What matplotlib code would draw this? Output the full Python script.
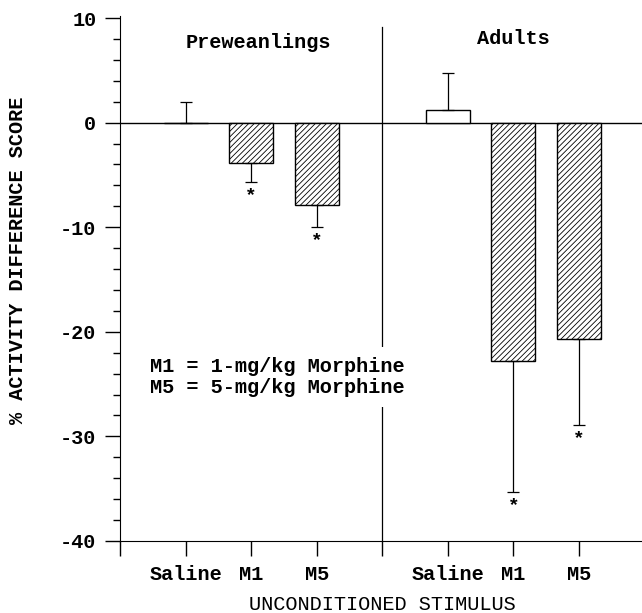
import matplotlib.pyplot as plt
import numpy as np

plt.rcParams['font.family'] = ['Liberation Mono', 'DejaVu Sans Mono']
plt.rcParams['axes.unicode_minus'] = False
plt.rcParams['hatch.linewidth'] = 0.6

# values (% activity difference score)
group_names = ["Preweanlings", "Adults"]
tick_labels = ["", "Saline", "M1", "M5", "", "Saline", "M1", "M5"]
bar_pos = [1, 2, 3, 5, 6, 7]
means = [0.0, -3.9, -7.9, 1.2, -22.8, -20.7]
sem = [2.0, 1.75, 2.1, 3.5, 12.5, 8.2]
hatched = [False, True, True, False, True, True]
signif = [False, True, True, False, True, True]

FS = 14.6

fig = plt.figure(figsize=(6.42, 6.13), dpi=100)
ax = fig.add_axes([120 / 642, 72 / 613, 522 / 642, 523 / 613])

for x, m, e, h, s in zip(bar_pos, means, sem, hatched, signif):
    ax.bar(x, m, width=0.67, color='white', edgecolor='black', linewidth=1.0,
           hatch='//////' if h else None, zorder=2)
    # one sided error bar, pointing away from zero
    if m < 0:
        yerr = [[e], [0]]
        end = m - e
    else:
        yerr = [[0], [e]]
        end = m + e
    ax.errorbar(x, m, yerr=yerr, fmt='none', ecolor='black', elinewidth=0.9,
                capsize=4.5, capthick=0.9, zorder=3)
    if s:
        ax.text(x, end - 1.3, "*", ha='center', va='center', fontsize=14,
                fontweight='bold')

ax.axhline(0, color='black', linewidth=1.0, zorder=1)
ax.plot([4, 4], [-40, 9.1], color='black', linewidth=0.9, zorder=1)

ax.text(2.11, 7.7, group_names[0], ha='center', va='center', fontsize=FS,
        fontweight='bold')
ax.text(6.0, 8.0, group_names[1], ha='center', va='center', fontsize=FS,
        fontweight='bold')

ax.text(0.46, -24.3, "M1 = 1-mg/kg Morphine\nM5 = 5-mg/kg Morphine",
        ha='left', va='center', fontsize=FS, fontweight='bold',
        linespacing=1.15, zorder=4,
        bbox=dict(facecolor='white', edgecolor='none', pad=7))

ax.set_xlim(0, 7.96)
ax.set_ylim(-40, 10)
ax.spines['top'].set_visible(False)
ax.spines['right'].set_visible(False)
ax.spines['left'].set_bounds(-40, 10.2)

ax.set_yticks(np.arange(-40, 11, 10))
ax.set_yticks(np.arange(-40, 11, 2), minor=True)
ax.set_xticks(np.arange(0, 8))
ax.set_xticklabels(tick_labels)
ax.tick_params(axis='both', which='major', direction='out', length=11, width=1,
               labelsize=FS, pad=6)
ax.tick_params(axis='y', which='minor', direction='out', length=5, width=1)
for lab in ax.get_yticklabels() + ax.get_xticklabels():
    lab.set_fontweight('bold')

fig.text(18 / 642, (613 - 260) / 613, "% ACTIVITY DIFFERENCE SCORE",
         rotation=90, ha='center', va='center', fontsize=FS, fontweight='bold')
fig.text(382 / 642, (613 - 605) / 613, "UNCONDITIONED STIMULUS",
         ha='center', va='center', fontsize=FS)

fig.savefig("out.png", dpi=100)
